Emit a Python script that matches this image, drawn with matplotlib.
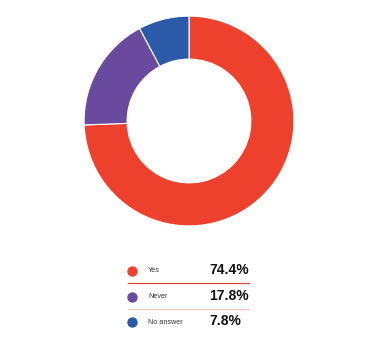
import matplotlib.pyplot as plt

labels = ['Yes', 'Never', 'No answer']
values = [74.4, 17.8, 7.8]
colors = ['#EE412D', '#6A4A9E', '#2B5BA8']

W, H = 369, 350
fig = plt.figure(figsize=(W / 100, H / 100), dpi=100)

# donut
cx, cy, r = 189, 121, 107
ax = fig.add_axes([(cx - r) / W, (H - cy - r) / H, 2 * r / W, 2 * r / H])
ax.pie(values, colors=colors, startangle=90, counterclock=False, radius=1,
       wedgeprops=dict(width=0.41, edgecolor='white', linewidth=0.8))
ax.set_xlim(-1.02, 1.02)
ax.set_ylim(-1.02, 1.02)
ax.set_aspect('equal')
ax.axis('off')

# legend table drawn in pixel coordinates
lax = fig.add_axes([0, 0, 1, 1])
lax.set_xlim(0, W)
lax.set_ylim(H, 0)
lax.axis('off')
rows_y = [271, 297, 322]
for i, (lab, val, col) in enumerate(zip(labels, values, colors)):
    y = rows_y[i]
    lax.scatter([132], [y], s=42, color=col, zorder=3)
    lax.text(148, y, lab, fontsize=5.2, family='Liberation Sans',
             va='center', ha='left', color='#333333')
    lax.text(209, y - 1, f'{val}%', fontsize=10, fontweight='bold',
             family='Liberation Sans', va='center', ha='left', color='#111111')
lax.plot([128, 249], [283, 283], color='#D9473A', lw=0.9)
lax.plot([128, 249], [309, 309], color='#F4C6C0', lw=0.9)

fig.savefig('out.png', dpi=100)
